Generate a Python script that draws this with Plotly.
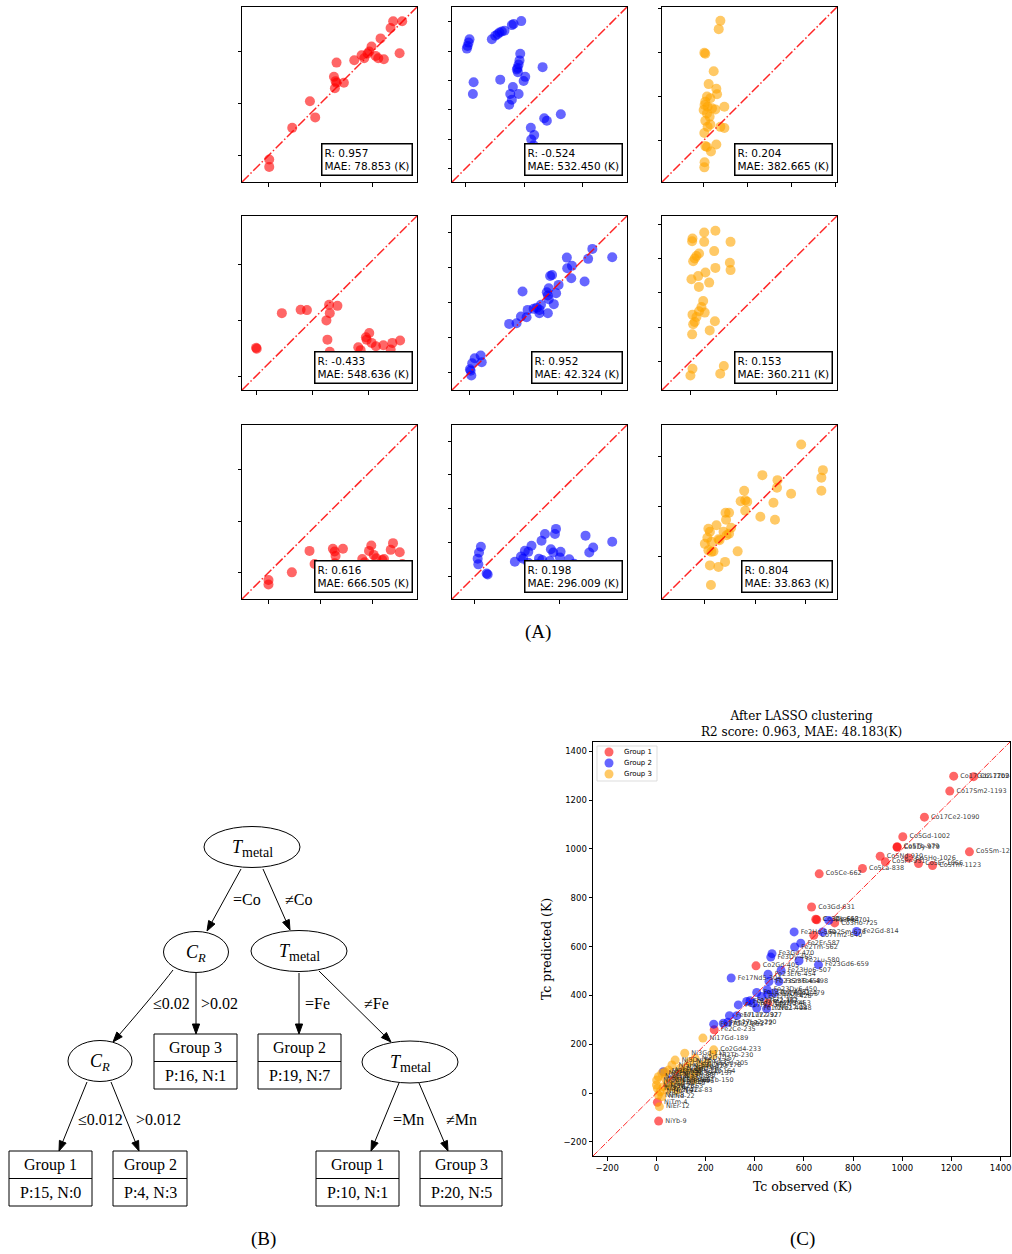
import math
import plotly.graph_objects as go

W, H = 1012, 1254

# ---------------- Panel A data: observed vs predicted Tc (K) ----------------
a11_obs = [3, 3, 225, 396, 447, 628, 644, 653, 637, 653, 724, 824, 895, 920, 969, 991, 953, 1030, 1056, 1110, 1078, 1262, 1175, 1200, 1287]
a11_pred = [-42, -114, 263, 519, 364, 757, 714, 698, 646, 893, 698, 916, 964, 935, 1000, 1049, 981, 958, 935, 925, 1127, 984, 1227, 1292, 1292]

a12_obs = [11, 16, 23, 29, 57, 52, 181, 204, 220, 233, 249, 267, 317, 329, 381, 374, 369, 363, 356, 351, 358, 238, 408, 397, 324, 306, 363, 317, 299, 526, 537, 555, 650, 446, 469, 449, 465]
a12_pred = [817, 835, 858, 881, 588, 508, 881, 904, 915, 927, 933, 938, 977, 984, 1004, 782, 737, 709, 686, 675, 657, 606, 625, 597, 556, 508, 508, 469, 435, 691, 343, 327, 371, 279, 229, 199, 160]

a13_obs = [8, 19, 190, 171, 114, 57, 144, 152, 38, 76, 19, 11, 45, 95, 0, 38, 68, 133, 235, 19, 76, 45, 8, 190, 235, 19, 38, 83, 144, 11, 8]
a13_pred = [993, 982, 1356, 1261, 783, 638, 585, 523, 497, 478, 439, 401, 382, 363, 344, 306, 267, 351, 382, 222, 180, 153, 84, 153, 141, -65, -76, -126, -46, -248, -306]

a21_obs = [0, 6, 229, 396, 452, 649, 655, 723, 625, 634, 655, 908, 929, 976, 1006, 982, 1027, 1065, 1131, 1211, 1280, 1196]
a21_pred = [252, 243, 562, 592, 589, 636, 562, 627, 497, 325, 216, 257, 231, 346, 385, 325, 296, 266, 275, 296, 317, 237]

a22_obs = [6, 10, 2, 15, 29, 63, 69, 225, 267, 292, 324, 330, 364, 382, 397, 406, 397, 445, 479, 450, 439, 450, 445, 492, 506, 458, 469, 553, 555, 582, 578, 654, 674, 698, 811, 301]
a22_pred = [10, -17, 19, 53, 82, 97, 59, 278, 282, 320, 316, 358, 364, 371, 358, 387, 339, 339, 391, 419, 459, 482, 440, 453, 501, 552, 558, 657, 596, 610, 539, 520, 650, 707, 659, 463]

a23_obs = [10, 8, 78, 143, 78, 231, 136, 48, 33, 23, 14, 143, 227, 231, 4, 43, 85, 47, 107, 72, 62, 48, 81, 10, 33, 23, 14, 140, 110, 8, 10, -2, 192, 171]
a23_pred = [718, 702, 753, 763, 698, 698, 644, 630, 615, 601, 585, 546, 576, 533, 480, 498, 519, 435, 460, 353, 318, 293, 285, 273, 259, 230, 217, 234, 181, 158, -43, -82, -27, -72]

a31_obs = [0, 0, 225, 395, 444, 620, 637, 646, 717, 903, 926, 968, 990, 1013, 1038, 1096, 1112, 1177, 1199, 1264, 1289, 637]
a31_pred = [-71, -114, 3, 211, 84, 231, 205, 162, 231, 133, 101, 211, 263, 172, 140, 123, 133, 221, 286, 198, 84, 91]

a32_obs = [35, 24, 16, 20, 75, 69, 235, 271, 294, 314, 333, 284, 392, 412, 471, 477, 377, 396, 447, 461, 504, 500, 441, 555, 584, 651, 673, 696, 808, 363, 314]
a32_pred = [174, 140, 104, 70, 10, 16, 86, 116, 150, 144, 180, 104, 210, 250, 250, 280, 104, 96, 160, 140, 144, 110, 90, 100, 74, 240, 140, 170, 204, 70, 80]

a33_obs = [191, 234, 231, 231, 114, 144, 143, 171, 78, 71, 80, 84, 80, 41, 48, 42, 23, 110, 139, 136, 7, 10, 52, 37, 48, 43, 0, 5, 13, 27, 29, 7, 13, 17, 65, 40, 10, 27, 12]
a33_pred = [223, 172, 157, 131, 162, 152, 137, 125, 131, 110, 112, 109, 91, 87, 87, 73, 62, 79, 73, 107, 55, 49, 57, 49, 45, 42, 25, 37, 29, 34, 32, 12, 9, 10, 10, -11, -18, -21, -57]

a_R = ["0.957", "-0.524", "0.204", "-0.433", "0.952", "0.153", "0.616", "0.198", "0.804"]
a_MAE = ["78.853", "532.450", "382.665", "548.636", "42.324", "360.211", "666.505", "296.009", "33.863"]
a_ranges = [(-260, 1430), (-90, 1100), (-472, 1512), (-125, 1430), (-100, 895),
            (-167, 849), (-255, 1430), (-135, 895), (-85, 262)]
a_xticks = [[0, 500, 1000], [0, 400, 800], [0, 500, 1000, 1500], [0, 500, 1000], [0, 250, 500, 750],
            [0, 500], [0, 500, 1000], [0, 500], [0, 100, 200]]
a_yticks = [[0, 500, 1000], [0, 200, 400, 600, 800, 1000], [0, 500, 1000, 1500], [0, 500, 1000],
            [0, 200, 400, 600, 800], [0, 200, 400, 600, 800], [0, 500, 1000], [0, 200, 400, 600, 800],
            [0, 100, 200]]

A_OBS = [a11_obs, a12_obs, a13_obs, a21_obs, a22_obs, a23_obs, a31_obs, a32_obs, a33_obs]
A_PRED = [a11_pred, a12_pred, a13_pred, a21_pred, a22_pred, a23_pred, a31_pred, a32_pred, a33_pred]

# ---------------- Panel C data ----------------
g1_names = ["Co17Gd2-1209", "Co17Tb2-1290", "Co17Sm2-1193", "Co17Ce2-1090", "Co5Gd-1002", "Co5Dy-979",
            "Co5Tb-979", "Co5Nd-910", "Co5Ho-1026", "Co5Pr-931", "Co5Er-1066", "Co5Tm-1123", "Co5Sm-1273",
            "Co5La-838", "Co5Ce-662", "Co3Gd-631", "Co3Tb-652", "Co3Dy-648", "Co3Ho-725", "Co7Tm2-640",
            "Co2Gd-405", "Co2Nd-453", "Fe2Ce-235", "NiYb-9", "NiTm-4"]
g1_obs = [1209, 1290, 1193, 1090, 1002, 979, 979, 910, 1026, 931, 1066, 1123, 1273, 838, 662, 631, 652, 648,
          725, 640, 405, 453, 235, 9, 4]
g1_pred = [1298, 1296, 1237, 1130, 1050, 1007, 1009, 970, 963, 947, 940, 932, 988, 920, 898, 762, 710, 712,
           697, 646, 521, 368, 259, -115, -38]

g2_names = ["Fe3Ho-701", "Fe2Ho-560", "Fe2Sm-676", "Fe2Gd-814", "Fe2Er-587", "Fe2Tm-562", "Fe3Gd-470",
            "Fe3Dy-465", "Fe2Lu-580", "Fe23Gd6-659", "Fe23Ho6-507", "Fe23Er6-454", "Fe17Nd5-304",
            "Fe23Tb6-498", "Fe23Sm6-458", "Fe23Dy6-450", "Fe17Gd2-479", "Fe17Tb2-408", "Fe17Dy2-453",
            "Fe17Ho2-428", "Fe17Er2-381", "Fe17Tm2-367", "Fe17Sm2-394", "Fe17Pr2-333", "Fe17Nd2-408",
            "Y2Fe17-448", "Fe17Y2-327", "Fe17Lu2-297", "Fe17Ce2-233", "Fe17Yb2-272", "Fe17La2-290",
            "Gd3Fe-28", "Gd5Fe-56", "Tb3Fe-83"]
g2_obs = [701, 560, 676, 814, 587, 562, 470, 465, 580, 659, 507, 454, 304, 498, 458, 450, 479, 408, 453, 428,
          381, 367, 394, 333, 408, 448, 327, 297, 233, 272, 290, 28, 56, 83]
g2_pred = [707, 660, 660, 662, 614, 598, 571, 557, 542, 525, 502, 487, 471, 457, 457, 423, 410, 412, 405, 395,
           378, 375, 368, 361, 348, 345, 317, 317, 282, 286, 290, 87, 53, 67]

g3_names = ["Ni17Gd-189", "Ni3Gd-115", "Co2Gd4-233", "Ni2Tb-230", "Ni2Dy-157", "Ni2Ho-178", "Ni5Gd-205",
            "Ni2Er-164", "Ni5Tb-150", "Ni5Dy-76", "Ni5Ho-63", "Ni5Er-49", "Ni3Dy-35", "Ni3Ho-22", "Ni3Er-8",
            "NiGd-1", "NiTb-0", "NiDy-4", "NiHo-15", "NiPr-8", "NiNd-22", "NiEr-12", "Ni2Sm-96", "Ni2Pr-110",
            "Ni2Nd-123", "Ni3Sm-137", "Ni5Sm-83", "Ni5Nd-69", "Ni5Pr-96", "Ni3Nd-49", "Ni3Pr-35", "Ni2Y-63",
            "Ni2La-83", "Ni3Y-42", "Ni5Y-28", "Ni2Ce-135"]
g3_obs = [189, 115, 233, 230, 157, 178, 205, 164, 150, 76, 63, 49, 35, 22, 8, 1, 0, 4, 15, 8, 22, 12, 96, 110,
          123, 137, 83, 69, 96, 49, 35, 63, 83, 42, 28, 135]
g3_pred = [225, 163, 177, 156, 142, 115, 122, 87, 53, 135, 115, 94, 87, 81, 67, 53, 33, 19, 5, -8, -15, -56,
           101, 87, 108, 81, 74, 53, 46, 40, 60, 26, 12, 12, 26, 128]

c_range = (-258, 1438)
c_ticks = [-200, 0, 200, 400, 600, 800, 1000, 1200, 1400]
group_labels = ["Group 1", "Group 2", "Group 3"]

RED = "rgba(255,0,0,0.6)"
BLUE = "rgba(0,0,255,0.6)"
ORANGE = "rgba(255,165,0,0.6)"
COLORS = [RED, BLUE, ORANGE]
DIAG = "rgba(255,0,0,0.85)"


def fx(px):
    return px / W


def fy(py):
    return 1 - py / H


def paper_text(px, py, text, family, size, **kw):
    d = dict(xref="paper", yref="paper", x=fx(px), y=fy(py), text=text, showarrow=False,
             xanchor="center", yanchor="middle", font=dict(family=family, size=size, color="black"))
    d.update(kw)
    return d


fig = go.Figure()
layout = dict(width=W, height=H, margin=dict(l=0, r=0, t=0, b=0),
              paper_bgcolor="white", plot_bgcolor="white", showlegend=False)
annotations = []
shapes = []

# ---------------- Panel A ----------------
col_px = [(242, 417), (452, 627), (662, 837)]
row_px = [(7, 182), (216, 390), (425, 599)]

for i in range(9):
    r, c = divmod(i, 3)
    n = i + 1
    s = "" if n == 1 else str(n)
    lo, hi = a_ranges[i]
    fig.add_trace(go.Scatter(x=A_OBS[i], y=A_PRED[i], mode="markers",
                             marker=dict(size=10, color=COLORS[c], line=dict(width=0)),
                             xaxis="x" + s, yaxis="y" + s, hoverinfo="skip", showlegend=False))
    fig.add_trace(go.Scatter(x=[lo, hi], y=[lo, hi], mode="lines",
                             line=dict(color=DIAG, width=1.5, dash="9.6px,2.4px,1.5px,2.4px"),
                             xaxis="x" + s, yaxis="y" + s, hoverinfo="skip", showlegend=False))
    common = dict(showticklabels=False, ticks="outside", ticklen=3.5, tickwidth=1, tickcolor="black",
                  showline=True, linecolor="black", linewidth=1, mirror=True, showgrid=False,
                  zeroline=False)
    x0, x1 = col_px[c]
    y0, y1 = row_px[r]
    layout["xaxis" + s] = dict(domain=[fx(x0), fx(x1)], anchor="y" + s, range=[lo, hi],
                               tickvals=a_xticks[i], **common)
    layout["yaxis" + s] = dict(domain=[fy(y1), fy(y0)], anchor="x" + s, range=[lo, hi],
                               tickvals=a_yticks[i], **common)
    annotations.append(dict(xref="x" + s + " domain", yref="y" + s + " domain", x=1, y=0,
                            xanchor="right", yanchor="bottom", xshift=-4, yshift=6,
                            text=f"R: {a_R[i]}<br>MAE: {a_MAE[i]} (K)", align="left", showarrow=False,
                            font=dict(family="DejaVu Sans", size=10.5, color="black"),
                            bgcolor="white", bordercolor="black", borderwidth=1.5, borderpad=2))

annotations.append(paper_text(538, 632, "(A)", "Liberation Serif", 19))

# ---------------- Panel C ----------------
cx = "x10"
cy = "y10"
for gi, (nm, ob, pr) in enumerate([(g1_names, g1_obs, g1_pred), (g2_names, g2_obs, g2_pred),
                                   (g3_names, g3_obs, g3_pred)]):
    fig.add_trace(go.Scatter(x=ob, y=pr, text=nm, mode="markers+text", textposition="middle right",
                             textfont=dict(family="DejaVu Sans", size=6.5, color="rgba(30,30,30,0.9)"),
                             marker=dict(size=9, color=COLORS[gi], line=dict(width=0)),
                             name=group_labels[gi], xaxis=cx, yaxis=cy, hoverinfo="skip", showlegend=False))
fig.add_trace(go.Scatter(x=list(c_range), y=list(c_range), mode="lines",
                         line=dict(color=DIAG, width=1, dash="6.4px,1.6px,1px,1.6px"),
                         xaxis=cx, yaxis=cy, hoverinfo="skip", showlegend=False))
c_common = dict(ticks="outside", ticklen=3.5, tickwidth=1, tickcolor="black", showline=True,
                linecolor="black", linewidth=1, mirror=True, showgrid=False, zeroline=False,
                tickfont=dict(family="DejaVu Sans", size=8.5, color="black"), tickvals=c_ticks,
                range=list(c_range))
layout["xaxis10"] = dict(domain=[fx(593), fx(1010)], anchor="y10", **c_common)
layout["yaxis10"] = dict(domain=[fy(1156), fy(742)], anchor="x10", **c_common)

annotations.append(paper_text(801, 724, "After LASSO clustering<br>R2 score: 0.963, MAE: 48.183(K)",
                              "DejaVu Serif", 12))
annotations.append(paper_text(802, 1186, "Tc observed (K)", "DejaVu Serif", 12.5))
annotations.append(paper_text(546, 949, "Tc predicted (K)", "DejaVu Serif", 12.5, textangle=-90))
annotations.append(paper_text(802, 1239, "(C)", "Liberation Serif", 19))

# custom legend for panel C
leg_box = (597, 657, 746, 781)
shapes.append(dict(type="rect", xref="paper", yref="paper", x0=fx(leg_box[0]), x1=fx(leg_box[1]),
                   y0=fy(leg_box[3]), y1=fy(leg_box[2]), line=dict(color="#d4d4d4", width=0.8),
                   fillcolor="rgba(255,255,255,0.85)", layer="above"))
for gi in range(3):
    yy = 752 + 11 * gi
    shapes.append(dict(type="circle", xref="paper", yref="paper", x0=fx(609 - 4.5), x1=fx(609 + 4.5),
                       y0=fy(yy + 4.5), y1=fy(yy - 4.5), line=dict(width=0), fillcolor=COLORS[gi],
                       layer="above"))
    annotations.append(paper_text(622, yy, group_labels[gi], "DejaVu Sans", 7, xanchor="left"))

# ---------------- Panel B: decision tree ----------------
bx, by = "x11", "y11"
fig.add_trace(go.Scatter(x=[], y=[], xaxis=bx, yaxis=by, showlegend=False, hoverinfo="skip"))
layout["xaxis11"] = dict(domain=[0, fx(520)], anchor="y11", range=[0, 520], visible=False)
layout["yaxis11"] = dict(domain=[0, fy(800)], anchor="x11", range=[1254, 800], visible=False)

T_METAL = '<i>T</i><sub><span style="font-size:14px">metal</span></sub>'
C_R = "<i>C</i><sub><i>R</i></sub>"
SERIF = "Liberation Serif"

tree_ellipses = [  # centre x, centre y, half width, half height, label
    (252, 847, 48, 20.5, T_METAL),
    (196, 952, 32.5, 20.5, C_R),
    (299, 951, 48, 20.5, T_METAL),
    (100, 1061, 32, 20.5, C_R),
    (410, 1062, 48, 21, T_METAL),
]
tree_leaves = [  # left, right, top, group, counts
    (154, 237, 1034, "Group 3", "P:16, N:1"),
    (258, 341, 1034, "Group 2", "P:19, N:7"),
    (9, 92, 1151, "Group 1", "P:15, N:0"),
    (113, 187, 1151, "Group 2", "P:4, N:3"),
    (316, 399, 1151, "Group 1", "P:10, N:1"),
    (420, 502, 1151, "Group 3", "P:20, N:5"),
]
cell_h = 27.5
tree_edges = [  # tail, head, label, label centre
    ((241, 869), (207, 931), "=Co", (247, 899)),
    ((263, 869), (290, 930), "≠Co", (298, 899)),
    ((196, 973), (196, 1034), ">0.02", (219, 1003)),
    ((299, 973), (299, 1034), "=Fe", (317, 1003)),
    ((319, 971), (391, 1042), "≠Fe", (376, 1003)),
    ((87, 1082), (59, 1151), "≤0.012", (100, 1119)),
    ((111, 1082), (139, 1151), ">0.012", (158, 1119)),
    ((399, 1083), (371, 1151), "=Mn", (408, 1119)),
    ((419, 1083), (448, 1151), "≠Mn", (461, 1119)),
]
curved_edge = dict(start=(173, 970), ctrl=(157, 991), end=(113, 1042),
                   label="≤0.02", label_pos=(171, 1003))
HEAD_L, HEAD_W = 10.0, 3.6


def arrow_head(tipx, tipy, dx, dy):
    """Return base point and triangle path for a filled arrowhead pointing along (dx, dy)."""
    ln = math.hypot(dx, dy)
    ux, uy = dx / ln, dy / ln
    bxp, byp = tipx - HEAD_L * ux, tipy - HEAD_L * uy
    px_, py_ = -uy, ux
    p1 = (bxp + HEAD_W * px_, byp + HEAD_W * py_)
    p2 = (bxp - HEAD_W * px_, byp - HEAD_W * py_)
    path = f"M {tipx},{tipy} L {p1[0]:.2f},{p1[1]:.2f} L {p2[0]:.2f},{p2[1]:.2f} Z"
    return (bxp, byp), path


for (ecx, ecy, rx, ry, lab) in tree_ellipses:
    shapes.append(dict(type="circle", xref=bx, yref=by, x0=ecx - rx, x1=ecx + rx, y0=ecy - ry, y1=ecy + ry,
                       line=dict(color="black", width=1), fillcolor="white", layer="above"))
    annotations.append(dict(xref=bx, yref=by, x=ecx, y=ecy + 1, text=lab, showarrow=False,
                            xanchor="center", yanchor="middle",
                            font=dict(family=SERIF, size=18, color="black")))

for (l, rr, top, g, cnt) in tree_leaves:
    shapes.append(dict(type="rect", xref=bx, yref=by, x0=l, x1=rr, y0=top, y1=top + 2 * cell_h,
                       line=dict(color="black", width=1), fillcolor="white", layer="above"))
    shapes.append(dict(type="line", xref=bx, yref=by, x0=l, x1=rr, y0=top + cell_h, y1=top + cell_h,
                       line=dict(color="black", width=1), layer="above"))
    annotations.append(dict(xref=bx, yref=by, x=(l + rr) / 2, y=top + cell_h / 2, text=g, showarrow=False,
                            xanchor="center", yanchor="middle",
                            font=dict(family=SERIF, size=16, color="black")))
    annotations.append(dict(xref=bx, yref=by, x=(l + rr) / 2, y=top + 1.5 * cell_h, text=cnt,
                            showarrow=False, xanchor="center", yanchor="middle",
                            font=dict(family=SERIF, size=16, color="black")))

for (tail, head, lab, lpos) in tree_edges:
    base, tri = arrow_head(head[0], head[1], head[0] - tail[0], head[1] - tail[1])
    shapes.append(dict(type="line", xref=bx, yref=by, x0=tail[0], y0=tail[1], x1=base[0], y1=base[1],
                       line=dict(color="black", width=1), layer="above"))
    shapes.append(dict(type="path", xref=bx, yref=by, path=tri, fillcolor="black",
                       line=dict(color="black", width=1), layer="above"))
    annotations.append(dict(xref=bx, yref=by, x=lpos[0], y=lpos[1], text=lab, showarrow=False,
                            xanchor="center", yanchor="middle",
                            font=dict(family=SERIF, size=16, color="black")))

s0, c0, e0 = curved_edge["start"], curved_edge["ctrl"], curved_edge["end"]
cbase, ctri = arrow_head(e0[0], e0[1], e0[0] - c0[0], e0[1] - c0[1])
shapes.append(dict(type="path", xref=bx, yref=by,
                   path=f"M {s0[0]},{s0[1]} Q {c0[0]},{c0[1]} {cbase[0]:.2f},{cbase[1]:.2f}",
                   line=dict(color="black", width=1), layer="above"))
shapes.append(dict(type="path", xref=bx, yref=by, path=ctri, fillcolor="black",
                   line=dict(color="black", width=1), layer="above"))
annotations.append(dict(xref=bx, yref=by, x=curved_edge["label_pos"][0], y=curved_edge["label_pos"][1],
                        text=curved_edge["label"], showarrow=False, xanchor="center", yanchor="middle",
                        font=dict(family=SERIF, size=16, color="black")))

annotations.append(paper_text(263, 1239, "(B)", SERIF, 19))

layout["annotations"] = annotations
layout["shapes"] = shapes
fig.update_layout(**layout)
fig.write_html("out.html", config={"displayModeBar": False},
               post_script="document.body.style.margin='0px';document.body.style.overflow='hidden';")
